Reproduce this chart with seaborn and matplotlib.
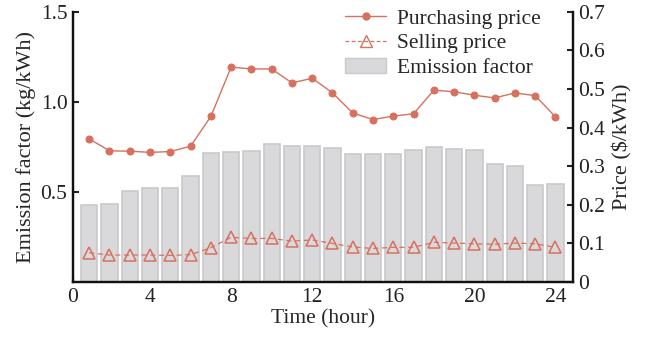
import numpy as np
import pandas as pd
import matplotlib
matplotlib.use("Agg")
import matplotlib.pyplot as plt
import seaborn as sns
from matplotlib.lines import Line2D
from matplotlib.patches import Patch

hours = list(range(1, 25))
emission = [0.426, 0.433, 0.503, 0.523, 0.523, 0.590, 0.714, 0.723, 0.729, 0.764,
            0.758, 0.758, 0.742, 0.710, 0.710, 0.710, 0.731, 0.751, 0.736, 0.731,
            0.653, 0.645, 0.540, 0.544]
purchasing = [0.371, 0.340, 0.339, 0.336, 0.338, 0.352, 0.429, 0.557, 0.552, 0.552,
              0.516, 0.528, 0.490, 0.438, 0.421, 0.430, 0.436, 0.497, 0.493, 0.484,
              0.477, 0.490, 0.483, 0.428]
selling = [0.076, 0.070, 0.070, 0.070, 0.069, 0.071, 0.089, 0.116, 0.113, 0.113,
           0.106, 0.109, 0.100, 0.091, 0.087, 0.090, 0.090, 0.103, 0.101, 0.099,
           0.098, 0.101, 0.099, 0.090]
x_ticks = [0, 4, 8, 12, 16, 20, 24]
left_ticks = [0.5, 1.0, 1.5]
left_labels = ["0.5", "1.0", "1.5"]
right_ticks = [0, 0.1, 0.2, 0.3, 0.4, 0.5, 0.6, 0.7]
right_labels = ["0", "0.1", "0.2", "0.3", "0.4", "0.5", "0.6", "0.7"]

df = pd.DataFrame({"hour": hours, "emission": emission,
                   "purchasing": purchasing, "selling": selling})

sns.set_style("ticks")
plt.rcParams["font.family"] = ["Liberation Serif", "DejaVu Serif"]
plt.rcParams["font.size"] = 15

line_color = "#d7705e"
bar_face = "#d9d9db"
bar_edge = "#c9c9cb"

fig = plt.figure(figsize=(6.5, 3.39), dpi=100)
ax = fig.add_axes([0.1123, 0.168, 0.7688, 0.797])

sns.barplot(data=df, x="hour", y="emission", native_scale=True, ax=ax,
            color=bar_face, edgecolor=bar_edge, linewidth=1.2, width=0.8,
            saturation=1, errorbar=None)
for p in ax.patches:
    p.set_facecolor(bar_face)
    p.set_edgecolor(bar_edge)

ax2 = ax.twinx()
sns.lineplot(data=df, x="hour", y="purchasing", ax=ax2, color=line_color,
             marker="o", markersize=5, markeredgecolor=line_color, linewidth=1.0)
sns.lineplot(data=df, x="hour", y="selling", ax=ax2, color=line_color,
             marker="^", markersize=8.5, markerfacecolor="none",
             markeredgecolor=line_color, markeredgewidth=1.1,
             linewidth=0.9, linestyle=(0, (4, 3)))

x_left = 0.2
ax.set_xlim(x_left, 24.85)
ax.set_ylim(0, 1.5)
ax2.set_ylim(0, 0.7)
tick_pos = [max(t, x_left) for t in x_ticks]
ax.set_xticks(tick_pos)
ax.set_xticklabels([str(t) for t in x_ticks])
ax.set_yticks(left_ticks)
ax.set_yticklabels(left_labels)
ax2.set_yticks(right_ticks)
ax2.set_yticklabels(right_labels)

ax.set_xlabel("Time (hour)", fontsize=15.5, labelpad=2)
ax.set_ylabel("Emission factor (kg/kWh)", fontsize=16, labelpad=3)
ax2.set_ylabel(r"Price (\$/kWh)", fontsize=16, labelpad=5)

for a in (ax, ax2):
    a.tick_params(direction="in", length=4, width=1.5, labelsize=15.5, pad=4,
                  colors="#222222")
    for s in ["left", "right", "bottom"]:
        a.spines[s].set_linewidth(1.6)
        a.spines[s].set_color("#111111")
    a.spines["top"].set_visible(False)

handles = [
    Line2D([0], [0], color=line_color, marker="o", markersize=5, linewidth=1.0),
    Line2D([0], [0], color=line_color, marker="^", markersize=8.5,
           markerfacecolor="none", linewidth=0.9, linestyle=(0, (3, 2))),
    Patch(facecolor=bar_face, edgecolor=bar_edge),
]
ax2.legend(handles, ["Purchasing price", "Selling price", "Emission factor"],
           loc="upper right", bbox_to_anchor=(0.962, 1.06), frameon=False,
           fontsize=15.5, handlelength=1.9, handletextpad=0.5, labelspacing=0.22,
           borderaxespad=0.2)

fig.savefig("out.png", dpi=100)
